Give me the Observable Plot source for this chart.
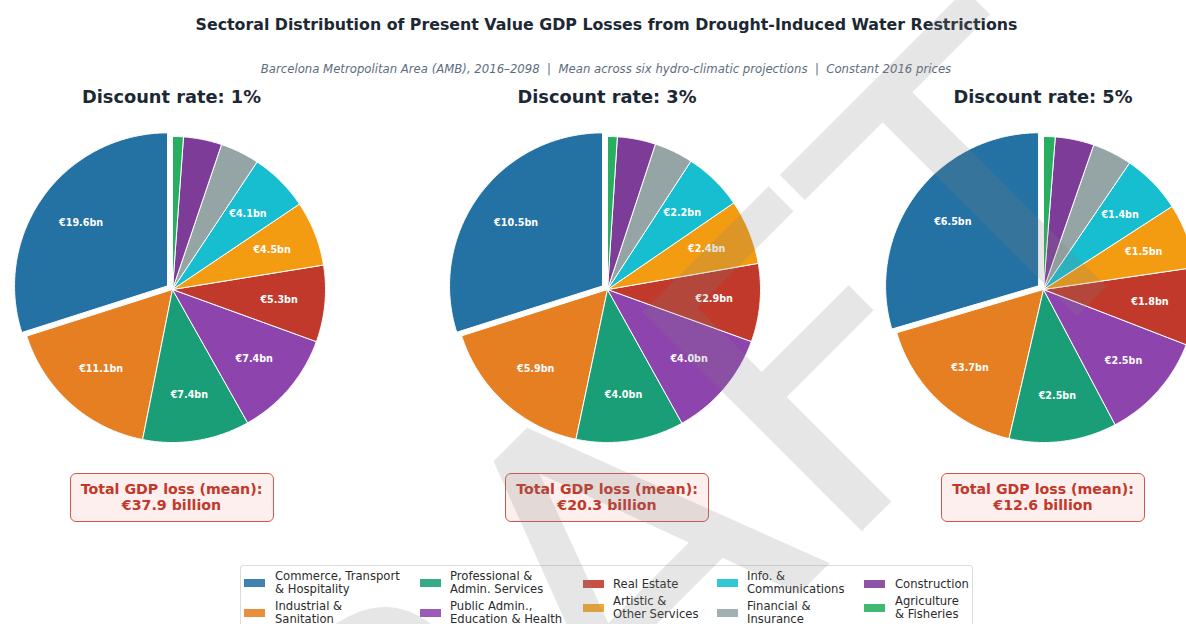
<!DOCTYPE html>
<html><head><meta charset="utf-8">
<script src="https://cdn.jsdelivr.net/npm/d3@7"></script>
<script src="https://cdn.jsdelivr.net/npm/@observablehq/plot@0.6"></script>
<style>
  html,body{margin:0;padding:0;background:#fff;}
  #fig{position:relative;width:1186px;height:624px;overflow:hidden;font-family:"DejaVu Sans",sans-serif;}
  .abs{position:absolute;white-space:nowrap;}
  .ctr{transform:translate(-50%,-50%);}
  .title{font-weight:bold;font-size:15.8px;color:#1c2833;}
  .subtitle{font-style:italic;font-size:11.7px;color:#5d6d7e;}
  .ptitle{font-weight:bold;font-size:17.8px;color:#1c2833;}
  .total{box-sizing:border-box;border:1.5px solid #d0574b;border-radius:6px;background:#fcefed;color:#c0392b;
         font-weight:bold;font-size:14.2px;line-height:16px;text-align:center;padding-top:7px;}
  .legend{box-sizing:border-box;border:1px solid #dcdcdc;border-radius:3px;background:rgba(255,255,255,0.85);}
  .lgtext{font-size:11.6px;line-height:13px;color:#2b2b2b;}
  .sw{position:absolute;width:21px;height:8px;}
</style></head>
<body><div id="fig"></div>
<script>
// ---------- data ----------
const sectors = ["Commerce, Transport & Hospitality","Industrial & Sanitation","Professional & Admin. Services",
  "Public Admin., Education & Health","Real Estate","Artistic & Other Services","Info. & Communications",
  "Financial & Insurance","Construction","Agriculture & Fisheries"];
const legendLines = [["Commerce, Transport","& Hospitality"],["Industrial &","Sanitation"],["Professional &","Admin. Services"],
  ["Public Admin.,","Education & Health"],["Real Estate"],["Artistic &","Other Services"],["Info. &","Communications"],
  ["Financial &","Insurance"],["Construction"],["Agriculture","& Fisheries"]];
const colors = ["#2471a3","#e67e22","#1a9e77","#8e44ad","#c0392b","#f39c12","#17becf","#95a5a6","#7d3c98","#27ae60"];
const rates = ["1%","3%","5%"];
const loss1 = [19.6,11.1,7.4,7.4,5.3,4.5,4.1,2.7,2.65,0.75];
const loss3 = [10.5,5.9,4.0,4.0,2.9,2.4,2.2,1.44,1.42,0.36];
const loss5 = [6.5,3.7,2.5,2.5,1.8,1.5,1.4,0.92,0.9,0.27];
const totals = [37.9,20.3,12.6];
const series = [loss1,loss3,loss5];

// ---------- layout ----------
const fig = document.getElementById("fig");
const R = 153, EXPLODE = 0.04, LABEL_R = 0.7, S = 380;
const centersX = [171.5,607,1043], centerY = 288.5;

function addDiv(cls, text, x, y, extra){
  const d = document.createElement("div");
  d.className = "abs " + cls;
  d.textContent = text;
  d.style.left = x + "px"; d.style.top = y + "px";
  if (extra) Object.assign(d.style, extra);
  fig.appendChild(d); return d;
}
addDiv("title ctr","Sectoral Distribution of Present Value GDP Losses from Drought-Induced Water Restrictions",606.5,24);
addDiv("subtitle ctr","Barcelona Metropolitan Area (AMB), 2016–2098  |  Mean across six hydro-climatic projections  |  Constant 2016 prices",606,69,{whiteSpace:"pre"});

function pieTables(values){
  const total = d3.sum(values);
  let acc = 0;
  const pts = [], labels = [];
  values.forEach((v,i)=>{
    const a0 = Math.PI/2 + acc/total*2*Math.PI;
    acc += v;
    const a1 = Math.PI/2 + acc/total*2*Math.PI;
    const mid = (a0+a1)/2;
    const ex = i===0 ? EXPLODE : 0;
    const ox = ex*Math.cos(mid), oy = ex*Math.sin(mid);
    pts.push({sector:sectors[i], x:ox, y:oy});
    const n = Math.max(2, Math.ceil((a1-a0)/(Math.PI/360)));
    for(let k=0;k<=n;k++){const a=a0+(a1-a0)*k/n; pts.push({sector:sectors[i], x:ox+Math.cos(a), y:oy+Math.sin(a)});}
    pts.push({sector:sectors[i], x:ox, y:oy});
    if (v/total >= 0.05) labels.push({x:ox+LABEL_R*Math.cos(mid), y:oy+LABEL_R*Math.sin(mid), text:`€${v.toFixed(1)}bn`});
  });
  return {pts, labels};
}

series.forEach((vals,p)=>{
  const {pts, labels} = pieTables(vals);
  const h = S/2/R;
  const chart = Plot.plot({
    width:S, height:S, margin:0,
    x:{domain:[-h,h], axis:null},
    y:{domain:[-h,h], axis:null},
    color:{domain:sectors, range:colors},
    style:{background:"transparent", overflow:"visible"},
    marks:[
      Plot.line(pts,{x:"x", y:"y", z:"sector", fill:"sector", stroke:"white", strokeWidth:1, strokeLinejoin:"miter"}),
      Plot.text(labels,{x:"x", y:"y", text:"text", fill:"white", fontWeight:"bold", fontSize:9.6, fontFamily:"DejaVu Sans"})
    ]
  });
  chart.style.position = "absolute";
  chart.style.left = (centersX[p]-S/2) + "px";
  chart.style.top = (centerY-S/2) + "px";
  fig.appendChild(chart);
  addDiv("ptitle ctr", `Discount rate: ${rates[p]}`, centersX[p], 96);
  const box = addDiv("total", "", centersX[p]-102, 473, {width:"204px", height:"49px"});
  box.innerHTML = `Total GDP loss (mean):<br>€${totals[p].toFixed(1)} billion`;
});

// ---------- legend ----------
const lg = addDiv("legend","",240,565,{width:"733px",height:"80px"});
const swX = [244,420,583,717,864], txX = [275,450,613,747,895];
sectors.forEach((s,i)=>{
  const col = Math.floor(i/2), row = i%2;
  const first = legendLines[col*2];
  let cy;
  if (row===0) cy = first.length===2 ? 582.5 : 584;
  else cy = first.length===2 ? 612.5 : 607.5;
  const lines = legendLines[i];
  const sw = document.createElement("div");
  sw.className = "sw"; sw.style.left = swX[col]+"px"; sw.style.top = (cy-4)+"px";
  sw.style.background = colors[i]; sw.style.opacity = 0.88;
  fig.appendChild(sw);
  const t = addDiv("lgtext","",txX[col], cy - lines.length*13/2);
  t.innerHTML = lines.map(l=>l.replace(/&/g,"&amp;")).join("<br>");
});

// ---------- watermark ----------
const wm = d3.select(fig).append("svg").attr("width",1186).attr("height",624)
  .style("position","absolute").style("left","0px").style("top","0px").style("pointer-events","none");
const wx = 691, wy = 702;
wm.append("text").attr("x",wx).attr("y",wy).attr("transform",`rotate(-45 ${wx} ${wy})`)
  .attr("text-anchor","middle")
  .attr("font-family","DejaVu Sans").attr("font-size",425)
  .attr("fill","#808080").attr("fill-opacity",0.2).text("DRAFT");
</script>
</body></html>
